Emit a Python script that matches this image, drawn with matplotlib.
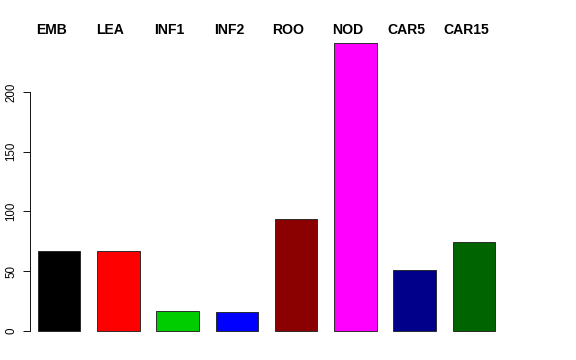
import matplotlib

matplotlib.use('Agg')
import matplotlib.pyplot as plt

# Data
samples = ['EMB', 'LEA', 'INF1', 'INF2', 'ROO', 'NOD', 'CAR5', 'CAR15']
counts = [67, 67, 16.5, 15.5, 94, 241, 51, 74.5]
bar_colors = ['#000000', '#FF0000', '#00CD00', '#0000FF',
              '#8B0000', '#FF00FF', '#00008B', '#006400']
y_ticks = [0, 50, 100, 150, 200]

plt.rcParams['font.family'] = ['Liberation Sans', 'DejaVu Sans']

fig = plt.figure(figsize=(8, 5), dpi=72, facecolor='white')
ax = fig.add_axes([0.0342, 0.0486, 0.8570, 0.8639])

# R-style barplot: width 1, space 0.4
x_pos = [0.9 + 1.4 * i for i in range(len(samples))]
ax.bar(x_pos, counts, width=1.0, color=bar_colors, edgecolor='#222222', linewidth=0.9)

ax.set_xlim(-0.032, 11.632)
ax.set_ylim(-9.64, 250.6)

for sp in ['top', 'right', 'bottom']:
    ax.spines[sp].set_visible(False)
ax.spines['left'].set_bounds(0, 200)
ax.spines['left'].set_position(('data', 0.2))
ax.spines['left'].set_linewidth(0.9)
ax.set_xticks([])
ax.set_yticks(y_ticks)
ax.tick_params(axis='y', length=7, width=0.9, pad=5, labelsize=11.5)
for lbl in ax.get_yticklabels():
    lbl.set_rotation(90)
    lbl.set_va('center')

# sample names along the top
for x, name in zip(x_pos, samples):
    ax.text(x - 0.19, 1.005, name, transform=ax.get_xaxis_transform(),
            ha='center', va='center', fontsize=14, fontweight='bold', clip_on=False)

fig.savefig('out.png', dpi=72, facecolor='white')
